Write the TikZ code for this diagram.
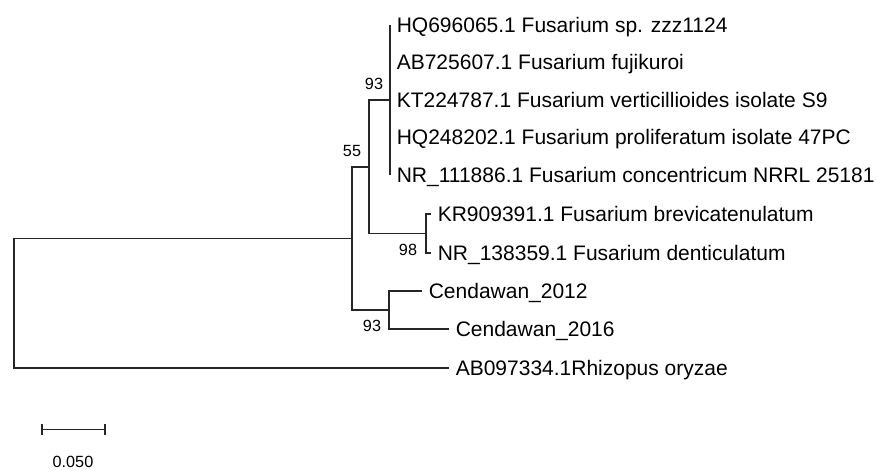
\documentclass[tikz,border=0pt]{standalone}
\usepackage{fontspec}
\setmainfont{Liberation Sans}
\usepackage{tikz}
\tikzset{
  leaf/.style={anchor=west, inner xsep=3.2pt, inner ysep=0pt, text height=7.5pt, text depth=0pt,
    font=\fontsize{10.5}{12}\selectfont},
  boot/.style={inner sep=0pt, text height=5.8pt, text depth=0pt, font=\fontsize{8.1}{10}\selectfont},
  branch/.style={line width=0.8pt, draw=black!85}
}

\begin{document}
\begin{tikzpicture}[x=0.5pt, y=-0.5pt]
\useasboundingbox (0,0) rectangle (876,470);
\coordinate (root) at (14,303.2);
\coordinate (n55) at (352,238.5);
\coordinate (nA) at (369,166.8);
\coordinate (nF) at (390,100);
\coordinate (n98) at (426,233.5);
\coordinate (nC) at (389,310);
\node[leaf] (f1) at (390,25) {HQ696065.1 Fusarium sp. zzz1124};
\node[leaf] (f2) at (390,62.5) {AB725607.1 Fusarium fujikuroi};
\node[leaf] (f3) at (390,100) {KT224787.1 Fusarium verticillioides isolate S9};
\node[leaf] (f4) at (390,137.5) {HQ248202.1 Fusarium proliferatum isolate 47PC};
\node[leaf] (f5) at (390,175) {NR\_111886.1 Fusarium concentricum NRRL 25181};
\node[leaf] (k1) at (431,214) {KR909391.1 Fusarium brevicatenulatum};
\node[leaf] (k2) at (431,253) {NR\_138359.1 Fusarium denticulatum};
\node[leaf] (c1) at (422,291) {Cendawan\_2012};
\node[leaf] (c2) at (449,329) {Cendawan\_2016};
\node[leaf] (rz) at (449,368) {AB097334.1Rhizopus oryzae};
\foreach \p/\c in {root/n55, root/rz.west, n55/nA, n55/nC, nA/nF, nA/n98,
    nF/f1.west, nF/f5.west, n98/k1.west, n98/k2.west, nC/c1.west, nC/c2.west}
  \draw[branch] (\p) |- (\c);
\node[boot] (b93a) at (374,84) {93};
\node[boot] (b55) at (352,151) {55};
\node[boot] (b98) at (408,250) {98};
\node[boot] (b93c) at (372,326) {93};
\coordinate (s0) at (42,429.5);
\coordinate (s1) at (105,429.5);
\draw[branch] (s0) -- (s1);
\draw[branch] (s0) ++(0,-5.5) -- ++(0,11);
\draw[branch] (s1) ++(0,-5.5) -- ++(0,11);
\node[boot] (sl) at (73,462) {0.050};
\end{tikzpicture}
\end{document}
